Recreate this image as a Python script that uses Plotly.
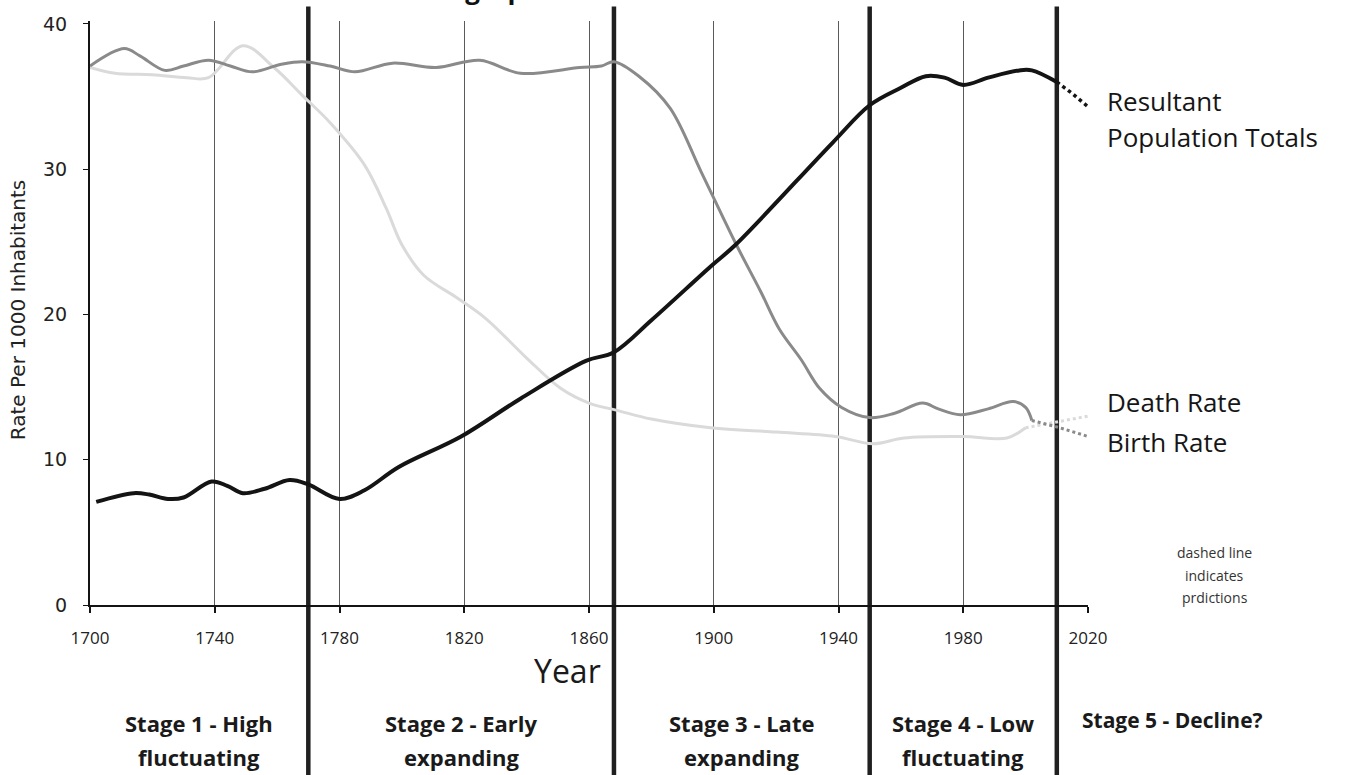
import plotly.graph_objects as go

# ---------------- data ----------------
pop_years = [1702, 1714, 1719, 1725, 1730, 1739, 1744, 1749, 1756, 1764, 1770, 1780, 1788,
             1799, 1819, 1838, 1859, 1868, 1880, 1899, 1907, 1938, 1950, 1960, 1968, 1974,
             1980, 1988, 1998, 2002, 2010]
pop_vals = [7.1, 7.7, 7.6, 7.3, 7.4, 8.5, 8.2, 7.7, 8.0, 8.6, 8.3, 7.3, 7.9,
            9.5, 11.6, 14.2, 16.8, 17.4, 19.6, 23.3, 24.8, 31.8, 34.4, 35.6, 36.4, 36.3,
            35.8, 36.3, 36.8, 36.8, 36.0]
pop_pred_years = [2010, 2015, 2020]
pop_pred_vals = [36.0, 35.2, 34.3]

birth_years = [1700, 1711, 1716, 1724, 1730, 1738, 1745, 1752, 1761, 1768, 1777, 1785, 1797,
               1811, 1825, 1838, 1857, 1864, 1868, 1876, 1886, 1896, 1907, 1915, 1921,
               1928, 1934, 1941, 1950, 1958, 1967, 1972, 1979, 1988, 1996, 2000, 2002]
birth_vals = [37.1, 38.3, 37.8, 36.8, 37.1, 37.5, 37.1, 36.7, 37.2, 37.4, 37.1, 36.7, 37.3,
              37.0, 37.5, 36.6, 37.0, 37.1, 37.4, 36.4, 34.2, 29.8, 24.9, 21.6, 19.0,
              16.9, 14.9, 13.6, 12.9, 13.2, 13.9, 13.5, 13.1, 13.5, 14.0, 13.6, 12.7]
birth_pred_years = [2002, 2011, 2020]
birth_pred_vals = [12.7, 12.2, 11.6]

death_years = [1700, 1708, 1720, 1731, 1738, 1749, 1759, 1768, 1777, 1788, 1795, 1800, 1807,
               1818, 1827, 1840, 1851, 1860, 1869, 1880, 1899, 1920, 1939, 1951, 1961, 1980,
               1994, 2000]
death_vals = [37.0, 36.6, 36.5, 36.3, 36.3, 38.5, 37.0, 35.1, 33.2, 30.3, 27.3, 24.8, 22.7,
              21.1, 19.7, 17.0, 14.9, 13.9, 13.4, 12.8, 12.2, 11.9, 11.6, 11.1, 11.5, 11.6,
              11.5, 12.2]
death_pred_years = [2000, 2010, 2020]
death_pred_vals = [12.2, 12.6, 13.0]

x_ticks = [1700, 1740, 1780, 1820, 1860, 1900, 1940, 1980, 2020]
y_ticks = [0, 10, 20, 30, 40]

stage_bounds = [1770, 1868, 1950, 2010]
stage_centers = [1735, 1819, 1909, 1980]
stage_line1 = ["Stage 1 - High", "Stage 2 - Early", "Stage 3 - Late", "Stage 4 - Low"]
stage_line2 = ["fluctuating", "expanding", "expanding", "fluctuating"]
stage5_text = "Stage 5 - Decline?"

title_text = "Demographic Transition Model"
x_title = "Year"
y_title = "Rate Per 1000 Inhabitants"
series_labels = [("Resultant", 34.7), ("Population Totals", 32.2),
                 ("Death Rate", 14.0), ("Birth Rate", 11.2)]
note_lines = [("dashed line", 3.6), ("indicates", 2.05), ("prdictions", 0.5)]

# ---------------- styling ----------------
FONT = "Open Sans"
BLACK = "#141414"
MID = "#8a8a8a"
LIGHT = "#dadada"

fig = go.Figure()

fig.add_trace(go.Scatter(x=death_years, y=death_vals, mode="lines", name="Death Rate",
                         line=dict(color=LIGHT, width=3, shape="spline", smoothing=1.0)))
fig.add_trace(go.Scatter(x=death_pred_years, y=death_pred_vals, mode="lines", showlegend=False,
                         line=dict(color=LIGHT, width=3, dash="dot")))
fig.add_trace(go.Scatter(x=birth_years, y=birth_vals, mode="lines", name="Birth Rate",
                         line=dict(color=MID, width=3, shape="spline", smoothing=1.0)))
fig.add_trace(go.Scatter(x=birth_pred_years, y=birth_pred_vals, mode="lines", showlegend=False,
                         line=dict(color=MID, width=3, dash="dot")))
fig.add_trace(go.Scatter(x=pop_years, y=pop_vals, mode="lines", name="Resultant Population Totals",
                         line=dict(color=BLACK, width=4, shape="spline", smoothing=1.0)))
fig.add_trace(go.Scatter(x=pop_pred_years, y=pop_pred_vals, mode="lines", showlegend=False,
                         line=dict(color=BLACK, width=3.5, dash="dot")))

# thick stage boundary lines (extend above plot and down through stage labels)
for b in stage_bounds:
    fig.add_shape(type="line", xref="x", yref="paper", x0=b, x1=b, y0=-0.30, y1=1.025,
                  line=dict(color="#202020", width=4.5), layer="below")

annotations = []
# title (mostly cut off at the top like the reference)
annotations.append(dict(text="<b>" + title_text + "</b>", xref="paper", yref="paper",
                        x=0.5, y=1.021, xanchor="center", yanchor="bottom", showarrow=False,
                        font=dict(family=FONT, size=26, color="#111")))
# axis titles
annotations.append(dict(text=x_title, xref="x", yref="paper", x=1853, y=-0.112,
                        xanchor="center", yanchor="middle", showarrow=False,
                        font=dict(family=FONT, size=32, color="#1a1a1a")))
annotations.append(dict(text=y_title, xref="paper", yref="paper", x=-0.072, y=0.505,
                        xanchor="center", yanchor="middle", textangle=-90, showarrow=False,
                        font=dict(family="DejaVu Sans", size=20, color="#222")))
# stage labels
for c, l1, l2 in zip(stage_centers, stage_line1, stage_line2):
    annotations.append(dict(text="<b>" + l1 + "</b>", xref="x", yref="paper", x=c, y=-0.202,
                            xanchor="center", yanchor="middle", showarrow=False,
                            font=dict(family=FONT, size=22, color="#1a1a1a")))
    annotations.append(dict(text="<b>" + l2 + "</b>", xref="x", yref="paper", x=c, y=-0.26,
                            xanchor="center", yanchor="middle", showarrow=False,
                            font=dict(family=FONT, size=22, color="#1a1a1a")))
annotations.append(dict(text="<b>" + stage5_text + "</b>", xref="paper", yref="paper",
                        x=1.085, y=-0.197, xanchor="center", yanchor="middle", showarrow=False,
                        font=dict(family=FONT, size=21, color="#1a1a1a")))
# series labels on the right
for txt, yv in series_labels:
    annotations.append(dict(text=txt, xref="paper", yref="y", x=1.017, y=yv,
                            xanchor="left", yanchor="middle", showarrow=False,
                            font=dict(family=FONT, size=26, color="#161616")))
for txt, yv in note_lines:
    annotations.append(dict(text=txt, xref="paper", yref="y", x=1.127, y=yv,
                            xanchor="center", yanchor="middle", showarrow=False,
                            font=dict(family=FONT, size=14, color="#333")))

fig.update_layout(
    width=1354, height=775,
    margin=dict(l=90, r=266, t=21, b=170),
    paper_bgcolor="white", plot_bgcolor="white",
    showlegend=False,
    annotations=annotations,
    font=dict(family=FONT, color="#222"),
)
fig.update_xaxes(range=[1700, 2020], tickvals=x_ticks, showgrid=True, gridcolor="#5a5a5a",
                 gridwidth=1, showline=True, linecolor=BLACK, linewidth=2, zeroline=False,
                 ticks="outside", ticklen=6, tickcolor=BLACK, tickwidth=1.5,
                 ticklabelstandoff=11, tickfont=dict(family=FONT, size=17, color="#222"))
fig.update_yaxes(range=[0, 40.2], tickvals=y_ticks, showgrid=False, showline=True,
                 linecolor=BLACK, linewidth=2, zeroline=False, ticks="outside", ticklen=5,
                 tickcolor=BLACK, ticklabelstandoff=12,
                 tickfont=dict(family="DejaVu Sans", size=19, color="#222"))

fig.write_html("out.html", config={"displayModeBar": False},
               post_script="document.body.style.margin='0px';document.body.style.overflow='hidden';")
